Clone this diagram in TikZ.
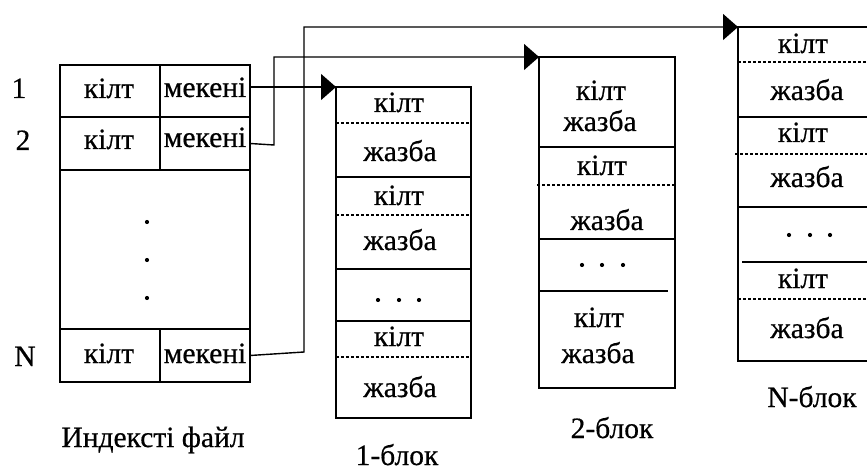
\documentclass[tikz,border=0pt]{standalone}
\usepackage{fontspec}
\setmainfont[FakeBold=0.5]{Liberation Serif}
\usetikzlibrary{arrows.meta}
\begin{document}
\begin{tikzpicture}[x=1pt,y=-1pt,
  frame/.style={draw, line width=1.4pt, inner sep=0pt, outer sep=0pt, anchor=north west},
  sep/.style={line width=1.4pt},
  dsep/.style={line width=1.1pt, dash pattern=on 3pt off 2pt},
  txt/.style={inner sep=0pt, anchor=base, font=\fontsize{29.5}{34}\selectfont},
  dot/.style={fill, circle, inner sep=0pt, minimum size=4.2pt},
  link/.style={line width=1.4pt, -{Triangle[length=15pt,width=26pt]}},
]
\useasboundingbox (0,0) rectangle (867,470);
\clip (0,0) rectangle (867,470);

% ---- index file ----
\node[frame, minimum width=100pt, minimum height=52pt] (k1) at (60,65) {};
\node[frame, minimum width=90pt,  minimum height=52pt] (m1) at (160,65) {};
\node[frame, minimum width=100pt, minimum height=53pt] (k2) at (60,117) {};
\node[frame, minimum width=90pt,  minimum height=53pt] (m2) at (160,117) {};
\node[frame, minimum width=190pt, minimum height=159pt] (gap) at (60,170) {};
\node[frame, minimum width=100pt, minimum height=53pt] (kN) at (60,329) {};
\node[frame, minimum width=90pt,  minimum height=53pt] (mN) at (160,329) {};

\node[txt] (tk1) at (109,98) {кілт};
\node[txt] (tm1) at (205,97) {мекені};
\node[txt] (tk2) at (109,149) {кілт};
\node[txt] (tm2) at (205,147) {мекені};
\node[txt] (tkN) at (109,363) {кілт};
\node[txt] (tmN) at (205,363) {мекені};

\node[dot] (g1) at (147,222) {};
\node[dot] (g2) at (147,260) {};
\node[dot] (g3) at (147,298) {};

\node[txt] (r1) at (19,98) {1};
\node[txt] (r2) at (23,150) {2};
\node[txt] (rN) at (25,366) {N};
\node[txt] (cap0) at (153,447) {Индексті файл};

% ---- block 1 ----
\node[frame, minimum width=135pt, minimum height=331pt] (b1) at (336,87) {};
\draw[dsep] (b1.west |- 0,123) -- (b1.east |- 0,123);
\draw[sep]  (b1.west |- 0,177) -- (b1.east |- 0,177);
\draw[dsep] (b1.west |- 0,215) -- (b1.east |- 0,215);
\draw[sep]  (b1.west |- 0,269) -- (b1.east |- 0,269);
\draw[sep]  (b1.west |- 0,321) -- (b1.east |- 0,321);
\draw[dsep] (b1.west |- 0,357) -- (b1.east |- 0,357);
\node[txt] (a1) at (399,112) {кілт};
\node[txt] (a2) at (400,161) {жазба};
\node[txt] (a3) at (399,205) {кілт};
\node[txt] (a4) at (400,250) {жазба};
\node[dot] (ad1) at (378,300) {};
\node[dot] (ad2) at (399,300) {};
\node[dot] (ad3) at (419,300) {};
\node[txt] (a5) at (399,346) {кілт};
\node[txt] (a6) at (400,397) {жазба};
\node[txt] (cap1) at (397,465) {1-блок};

% ---- block 2 ----
\node[frame, minimum width=136pt, minimum height=331pt] (b2) at (539,57) {};
\draw[sep]  (b2.west |- 0,147) -- (b2.east |- 0,147);
\draw[dsep] ([xshift=-2pt]b2.west |- 0,185) -- (b2.east |- 0,185);
\draw[sep]  (b2.west |- 0,239) -- (b2.east |- 0,239);
\draw[sep]  (b2.west |- 0,291) -- ([xshift=-7pt]b2.east |- 0,291);
\node[txt] (c1) at (601,100) {кілт};
\node[txt] (c2) at (600,131) {жазба};
\node[txt] (c3) at (602,175) {кілт};
\node[txt] (c4) at (607,230) {жазба};
\node[dot] (cd1) at (582,265) {};
\node[dot] (cd2) at (602,265) {};
\node[dot] (cd3) at (623,265) {};
\node[txt] (c5) at (599,327) {кілт};
\node[txt] (c6) at (598,363) {жазба};
\node[txt] (cap2) at (612,438) {2-блок};

% ---- block N ----
\node[frame, minimum width=136pt, minimum height=334pt] (bN) at (738,27) {};
\draw[dsep] (bN.west |- 0,62)  -- (bN.east |- 0,62);
\draw[sep]  (bN.west |- 0,117) -- (bN.east |- 0,117);
\draw[dsep] ([xshift=-3pt]bN.west |- 0,154) -- (bN.east |- 0,154);
\draw[sep]  (bN.west |- 0,207) -- (bN.east |- 0,207);
\draw[sep]  ([xshift=4pt]bN.west |- 0,262) -- (bN.east |- 0,262);
\draw[dsep] (bN.west |- 0,299) -- (bN.east |- 0,299);
\node[txt] (e1) at (803,53) {кілт};
\node[txt] (e2) at (807,100) {жазба};
\node[txt] (e3) at (803,142) {кілт};
\node[txt] (e4) at (807,187) {жазба};
\node[dot] (ed1) at (789,235) {};
\node[dot] (ed2) at (810,235) {};
\node[dot] (ed3) at (830,235) {};
\node[txt] (e5) at (803,288) {кілт};
\node[txt] (e6) at (807,338) {жазба};
\node[txt] (capN) at (812,407) {N-блок};

% ---- pointers from the index to the blocks ----
\draw[link] (m1.east |- b1.north west) -- (b1.north west);
\draw[link] (m2.east) -- (274,145) |- (b2.north west);
\draw[link] (mN.east) -- (304,352) |- (bN.north west);
\end{tikzpicture}
\end{document}
